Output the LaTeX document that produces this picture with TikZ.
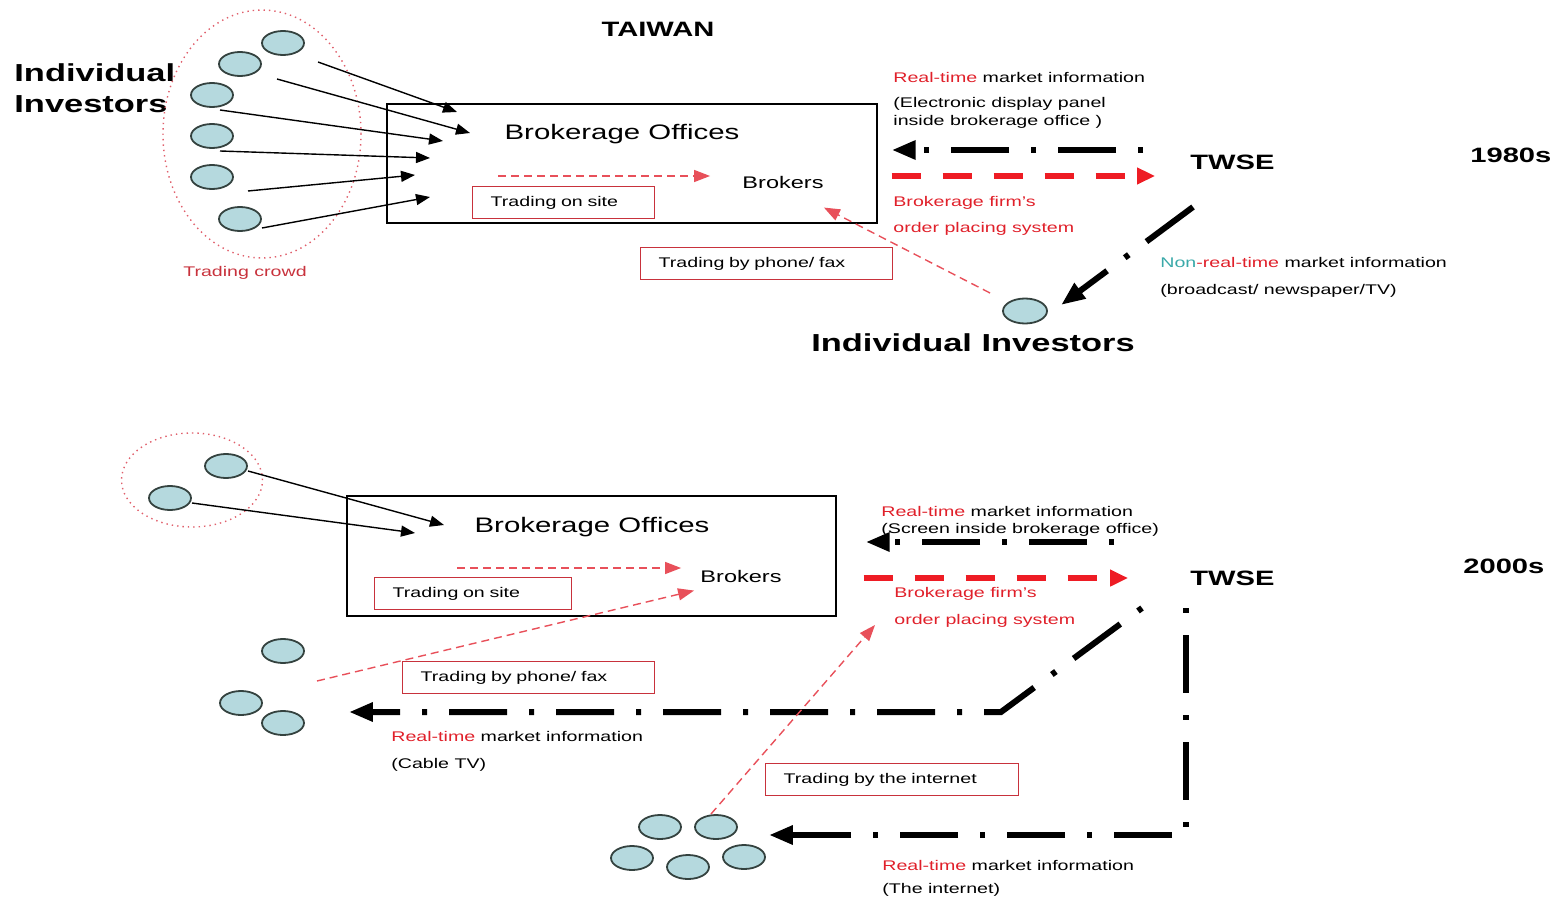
\documentclass[tikz,border=0pt]{standalone}
\usepackage{fontspec}
\setmainfont{Liberation Sans}[FakeStretch=1.4]
\usetikzlibrary{
    arrows.meta,
    shapes.geometric,
    calc
}
\definecolor{InvFill}{HTML}{B5D9DE}
\definecolor{InvEdge}{HTML}{34423F}
\definecolor{LabelRed}{HTML}{E0202A}
\definecolor{BoxRed}{HTML}{C8323C}
\definecolor{CrowdRed}{HTML}{E0606C}
\definecolor{TradeRed}{HTML}{E8505A}
\definecolor{OrderRed}{HTML}{EE1C24}
\definecolor{NonTeal}{HTML}{3AA9A9}
\newcommand{\labelsize}{\fontsize{7pt}{9.5pt}\selectfont}
\newcommand{\officesize}{\fontsize{10.5pt}{12pt}\selectfont}
\newcommand{\brokersize}{\fontsize{8.4pt}{10pt}\selectfont}
\newcommand{\headsize}{\bfseries\fontsize{12.3pt}{15pt}\selectfont}
\newcommand{\marksize}{\bfseries\fontsize{10.4pt}{12pt}\selectfont}
\tikzset{
    investor/.style={
        ellipse,
        draw=InvEdge,
        fill=InvFill,
        line width=0.9pt,
        minimum width=21pt,
        minimum height=12pt,
        inner sep=0pt,
    },
    crowd/.style={
        ellipse,
        draw=CrowdRed,
        dotted,
        line width=0.7pt,
        inner sep=0pt,
    },
    office/.style={
        rectangle,
        draw,
        line width=0.7pt,
        inner sep=0pt,
    },
    txt/.style={
        inner sep=0pt,
        anchor=base west,
        font=\labelsize,
    },
    redtxt/.style={
        txt,
        text=LabelRed,
    },
    headtxt/.style={
        inner sep=0pt,
        anchor=base west,
        font=\headsize,
    },
    boldtxt/.style={
        inner sep=0pt,
        anchor=base west,
        font=\marksize,
    },
    tradebox/.style={
        rectangle,
        draw=BoxRed,
        line width=0.7pt,
        inner xsep=9pt,
        inner ysep=0pt,
        minimum height=16pt,
        align=left,
        anchor=north west,
        font=\labelsize,
    },
    feed/.style={
        -{Triangle[length=7pt,width=5.5pt]},
        line width=0.7pt,
    },
    tradeline/.style={
        -{Triangle[length=8pt,width=6pt]},
        draw=TradeRed,
        line width=0.7pt,
        dash pattern=on 4pt off 2.5pt,
    },
    infoline/.style={
        -{Triangle[length=12pt,width=9pt]},
        line width=3pt,
        dash pattern=on 29pt off 11pt on 2.5pt off 11pt,
    },
    orderline/.style={
        -{Triangle[length=9pt,width=8pt]},
        draw=OrderRed,
        line width=3pt,
        dash pattern=on 14.5pt off 11pt,
    },
}

\begin{document}
\begin{tikzpicture}[x=0.5pt,y=-0.5pt]
    \useasboundingbox (0,0) rectangle (1562,909);

    % 1980s
    \node[boldtxt,anchor=base] (taiwan) at (658,37) {TAIWAN};
    \node[headtxt] (indiv1a) at (14,82) {Individual};
    \node[headtxt] (indiv1b) at (14,113) {Investors};

    \node[crowd,minimum width=99pt,minimum height=124pt] (crowd1) at (262,134) {};
    \node[txt,anchor=base,text=BoxRed] (crowd1lbl) at (245,277) {Trading crowd};

    \node[investor] (inv1) at (283,43) {};
    \node[investor] (inv2) at (240,64) {};
    \node[investor] (inv3) at (212,95) {};
    \node[investor] (inv4) at (212,136) {};
    \node[investor] (inv5) at (212,177) {};
    \node[investor] (inv6) at (240,219) {};

    \node[office,minimum width=245pt,minimum height=59.5pt] (office1) at (632,163.5) {};
    \node[inner sep=0pt,anchor=base,font=\officesize] (office1lbl) at (622,140) {Brokerage Offices};
    \node[inner sep=0pt,anchor=base,font=\brokersize] (brokers1) at (783,189) {Brokers};
    \node[tradebox,text width=73pt] (site1) at (472,186) {Trading on site};
    \node[tradebox,text width=108pt] (phone1) at (640,247) {Trading by phone/ fax};

    \coordinate (in1) at (457,112);
    \coordinate (in2) at (470,133);
    \coordinate (in3) at (443,141);
    \coordinate (in4) at (430,158);
    \coordinate (in5) at (415,175);
    \coordinate (in6) at (430,197);
    \foreach \i/\dx/\dy in {1/35/19, 2/37/15, 3/8/15, 4/8/15, 5/36/14, 6/22/9}
        \draw[feed] ($(inv\i)+(\dx,\dy)$) -- (in\i);

    \coordinate (walk1) at (498,176);
    \draw[tradeline] (walk1) -- (walk1 -| brokers1.west) [shorten >=16pt];

    \node[txt] (rt1) at (893,83) {{\color{LabelRed}Real-time} market information};
    \node[txt] (panel1a) at (893,108) {(Electronic display panel};
    \node[txt] (panel1b) at (893,126) {inside brokerage office )};
    \node[redtxt] (firm1) at (893,206) {Brokerage firm's};
    \node[redtxt] (order1) at (893,233) {order placing system};

    \node[boldtxt] (twse1) at (1190,170) {TWSE};
    \node[boldtxt] (era1) at (1470,163) {1980s};

    \node[txt] (nrt) at (1160,268) {{\color{NonTeal}Non}{\color{LabelRed}-real-time} market information};
    \node[txt] (bcast) at (1160,294) {(broadcast/ newspaper/TV)};

    \node[investor,minimum width=22pt,minimum height=12.5pt] (solo) at (1025,311) {};
    \node[headtxt,anchor=base] (indiv1c) at (973,351) {Individual Investors};

    \coordinate (tw1a) at (1143,150);
    \coordinate (tw1b) at (1155,176);
    \coordinate (tw1c) at (1193,207);
    \draw[infoline,dash phase=40pt] (tw1a) -- (office1.east |- tw1a) [shorten >=7pt];
    \draw[orderline] (office1.east |- tw1b) -- (tw1b) [shorten <=7pt];
    \draw[infoline] (tw1c) -- ($(solo)+(36,-6)$);
    \draw[tradeline] (solo) -- ($(brokers1.south east)+(0,18)$) [shorten <=10pt];

    % 2000s
    \node[crowd,minimum width=70.5pt,minimum height=47pt] (crowd2) at (192,480) {};
    \node[investor] (inv7) at (226,466) {};
    \node[investor] (inv8) at (170,498) {};

    \node[office,minimum width=244.5pt,minimum height=60pt] (office2) at (591.5,556) {};
    \node[inner sep=0pt,anchor=base,font=\officesize] (office2lbl) at (592,532) {Brokerage Offices};
    \node[inner sep=0pt,anchor=base,font=\brokersize] (brokers2) at (741,582) {Brokers};
    \node[tradebox,text width=80.5pt] (site2) at (374,577) {Trading on site};
    \node[tradebox,text width=108pt] (phone2) at (402,661) {Trading by phone/ fax};
    \node[tradebox,text width=108.5pt] (web) at (765,763) {Trading by the internet};

    \coordinate (in7) at (444,525);
    \coordinate (in8) at (415,533);
    \foreach \i in {7,8}
        \draw[feed] ($(inv\i)+(22,5)$) -- (in\i);

    \coordinate (walk2) at (457,568);
    \draw[tradeline] (walk2) -- (walk2 -| brokers2.west) [shorten >=9.5pt];

    \node[investor] (cab1) at (283,651) {};
    \node[investor] (cab2) at (241,703) {};
    \node[investor] (cab3) at (283,723) {};

    \node[investor] (net1) at (660,827) {};
    \node[investor] (net2) at (716,827) {};
    \node[investor] (net3) at (632,858) {};
    \node[investor] (net4) at (688,867) {};
    \node[investor] (net5) at (744,857) {};

    \node[txt] (rt2) at (881,516) {{\color{LabelRed}Real-time} market information};
    \node[txt] (screen) at (881,533) {(Screen inside brokerage office)};
    \node[redtxt] (firm2) at (894,597) {Brokerage firm's};
    \node[redtxt] (order2) at (894,624) {order placing system};

    \node[boldtxt] (twse2) at (1190,585) {TWSE};
    \node[boldtxt] (era2) at (1463,573) {2000s};

    \node[txt] (rt3) at (391,741) {{\color{LabelRed}Real-time} market information};
    \node[txt] (cable) at (391,768) {(Cable TV)};
    \node[txt] (rt4) at (882,870) {{\color{LabelRed}Real-time} market information};
    \node[txt] (webinfo) at (882,893) {(The internet)};

    \coordinate (tw2a) at (1114,542);
    \coordinate (tw2b) at (1128,578);
    \coordinate (tw2c) at (1142,608);
    \coordinate (tw2d) at (1186,608);
    \coordinate (bend1) at (1001,712);
    \coordinate (bend2) at (1186,835);
    \draw[infoline,dash phase=40pt] (tw2a) -- (office2.east |- tw2a) [shorten >=14.5pt];
    \draw[orderline] (office2.east |- tw2b) -- (tw2b) [shorten <=13.5pt];
    \draw[infoline,dash phase=40pt] (tw2c) -- (bend1) -- ($(cab3.east |- bend1)+(44,0)$);
    \draw[infoline,dash phase=40pt] (tw2d) -- (bend2) -- ($(net2.east |- bend2)+(31,0)$);

    \draw[tradeline] ($(cab1)+(34,30)$) -- ($(brokers2.south west)+(-6,8)$);
    \draw[tradeline] ($(net2)+(-5,-13)$) -- ($(order2.base west)+(-19,1)$);
\end{tikzpicture}
\end{document}
